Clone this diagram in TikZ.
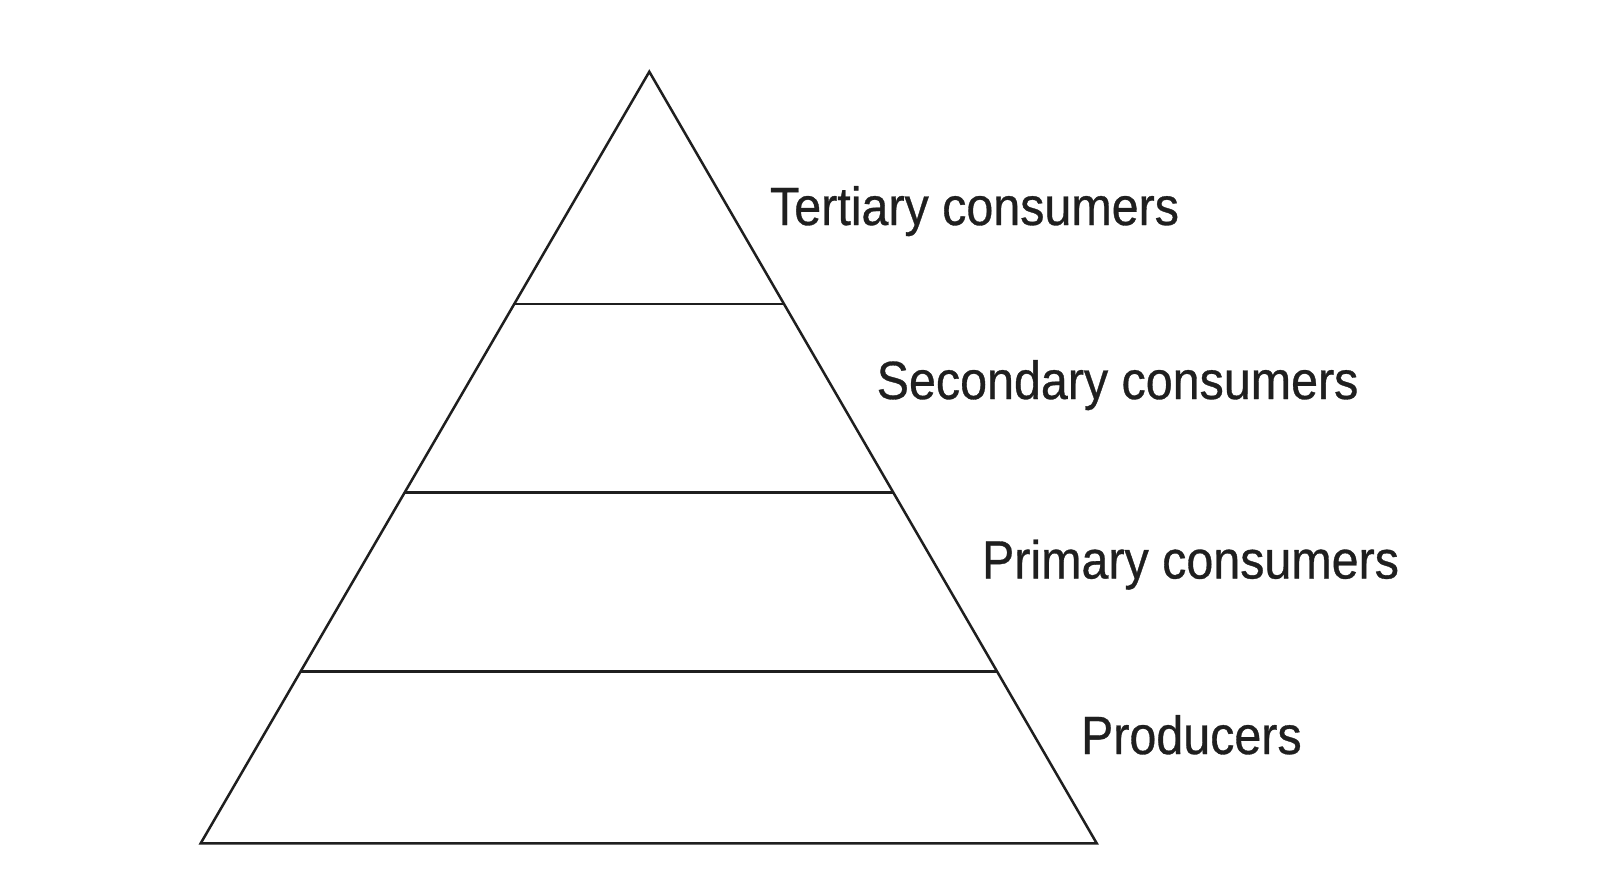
\documentclass[tikz,border=0pt]{standalone}
\usepackage{fontspec}
\setmainfont{Liberation Sans}[FakeStretch=0.9,FakeBold=0.6]
\usetikzlibrary{calc}
\tikzset{
  edge/.style={line width=2.5pt, draw=black!88, line join=miter},
  level/.style={anchor=base west, inner sep=0pt, outer sep=0pt, text=black!88,
    font=\fontsize{53.8}{60}\selectfont}
}
\begin{document}
\begin{tikzpicture}[x=1pt,y=-1pt]
\useasboundingbox (0,0) rectangle (1605,880);
\coordinate (A) at (649.3,71.7);
\coordinate (L) at (200.7,843.3);
\coordinate (R) at (1096.7,843.3);
\draw[edge] (A) -- (L) -- (R) -- cycle;
\coordinate (l1) at ($(A)!0.301!(L)$);
\coordinate (r1) at ($(A)!0.301!(R)$);
\coordinate (l2) at ($(A)!0.5452!(L)$);
\coordinate (r2) at ($(A)!0.5452!(R)$);
\coordinate (l3) at ($(A)!0.7773!(L)$);
\coordinate (r3) at ($(A)!0.7773!(R)$);
\draw[edge] (l1) -- (r1);
\draw[edge] (l2) -- (r2);
\draw[edge] (l3) -- (r3);
\node[level] (t) at (770,225) {Tertiary consumers};
\node[level] (s) at (876.7,399) {Secondary consumers};
\node[level] (p) at (982,578.5) {Primary consumers};
\node[level] (pr) at (1081,754) {Producers};
\end{tikzpicture}
\end{document}
